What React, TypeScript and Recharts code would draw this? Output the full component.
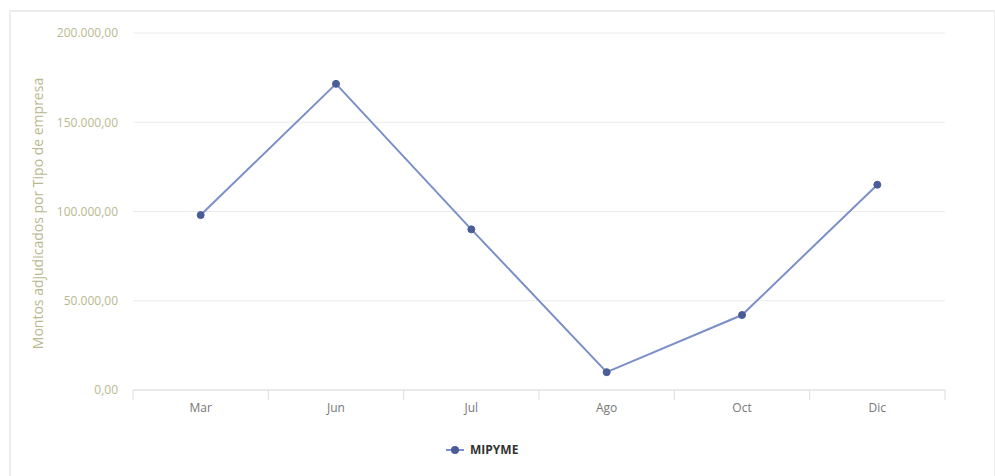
import { CartesianGrid, Legend, Line, LineChart, XAxis, YAxis } from 'recharts'

const months = ['Mar', 'Jun', 'Jul', 'Ago', 'Oct', 'Dic']
const mipyme = [98000, 171500, 90000, 10000, 42000, 115000]
const yTicks = [0, 50000, 100000, 150000, 200000]

const WIDTH = 995
const HEIGHT = 476
const PLOT_TOP = 33
const PLOT_LEFT = 133
const PLOT_RIGHT = 945
const PLOT_BOTTOM = 390
const HALF_BAND = (PLOT_RIGHT - PLOT_LEFT) / months.length / 2

const FONT = '"Open Sans", "Liberation Sans", Arial, sans-serif'
const LINE_COLOR = '#7b90c9'
const DOT_COLOR = '#4b5d98'
const OLIVE = '#b9b98f'

const data = months.map((month, i) => ({ month, MIPYME: mipyme[i] }))

function formatEs(v: number): string {
  const [int, dec] = v.toFixed(2).split('.')
  return `${int.replace(/\B(?=(\d{3})+(?!\d))/g, '.')},${dec}`
}

function MonthTick(props: any) {
  const { x, payload, index } = props
  const last = index === months.length - 1
  return (
    <g>
      <line x1={x - HALF_BAND} x2={x - HALF_BAND} y1={PLOT_BOTTOM} y2={PLOT_BOTTOM + 10} stroke="#dcdcdc" />
      {last && (
        <line x1={x + HALF_BAND} x2={x + HALF_BAND} y1={PLOT_BOTTOM} y2={PLOT_BOTTOM + 10} stroke="#dcdcdc" />
      )}
      <text x={x} y={PLOT_BOTTOM + 22} textAnchor="middle" fontSize={12} fill="#777" fontFamily={FONT}>
        {payload.value}
      </text>
    </g>
  )
}

// y axis title, centred on the plot height
function YTitle() {
  const cx = 37
  const cy = (PLOT_TOP + PLOT_BOTTOM) / 2 + 2
  return (
    <text
      x={cx}
      y={cy}
      transform={`rotate(-90, ${cx}, ${cy})`}
      textAnchor="middle"
      dominantBaseline="central"
      fontSize={14}
      fill={OLIVE}
      fontFamily={FONT}
    >
      Montos adjudicados por Tipo de empresa
    </text>
  )
}

function LegendContent() {
  return (
    <div style={{ display: 'flex', alignItems: 'center', fontFamily: FONT }}>
      <svg width={18} height={12}>
        <line x1={0} x2={18} y1={6} y2={6} stroke={LINE_COLOR} strokeWidth={2} />
        <circle cx={9} cy={6} r={4} fill={DOT_COLOR} />
      </svg>
      <span style={{ marginLeft: 6, fontSize: 12, fontWeight: 700, color: '#333' }}>MIPYME</span>
    </div>
  )
}

export default function App() {
  return (
    <div style={{ position: 'relative', width: WIDTH, height: HEIGHT, background: '#fff', overflow: 'hidden' }}>
      <style>{'body{margin:0}'}</style>
      <div
        style={{
          position: 'absolute',
          left: 9,
          top: 10,
          width: 983,
          height: 480,
          border: '2px solid #ececec',
        }}
      />
      <LineChart
        width={WIDTH}
        height={HEIGHT}
        data={data}
        margin={{ top: PLOT_TOP, right: WIDTH - PLOT_RIGHT, bottom: 56, left: 0 }}
      >
        <CartesianGrid vertical={false} stroke="#ebebeb" />
        <XAxis
          dataKey="month"
          scale="band"
          height={30}
          interval={0}
          tickLine={false}
          axisLine={{ stroke: '#dcdcdc' }}
          tick={<MonthTick />}
        />
        <YAxis
          width={PLOT_LEFT}
          domain={[0, 200000]}
          ticks={yTicks}
          tickFormatter={formatEs}
          axisLine={false}
          tickLine={false}
          tickMargin={9}
          tick={{ fontSize: 12, fill: OLIVE, fontFamily: FONT }}
          label={<YTitle />}
        />
        <Legend
          verticalAlign="middle"
          align="center"
          content={<LegendContent />}
          wrapperStyle={{ top: 441, left: 446, width: 'auto' }}
        />
        <Line
          type="linear"
          dataKey="MIPYME"
          stroke={LINE_COLOR}
          strokeWidth={2}
          dot={{ r: 3.5, fill: DOT_COLOR, stroke: DOT_COLOR, strokeWidth: 1 }}
          activeDot={false}
          isAnimationActive={false}
        />
      </LineChart>
    </div>
  )
}
